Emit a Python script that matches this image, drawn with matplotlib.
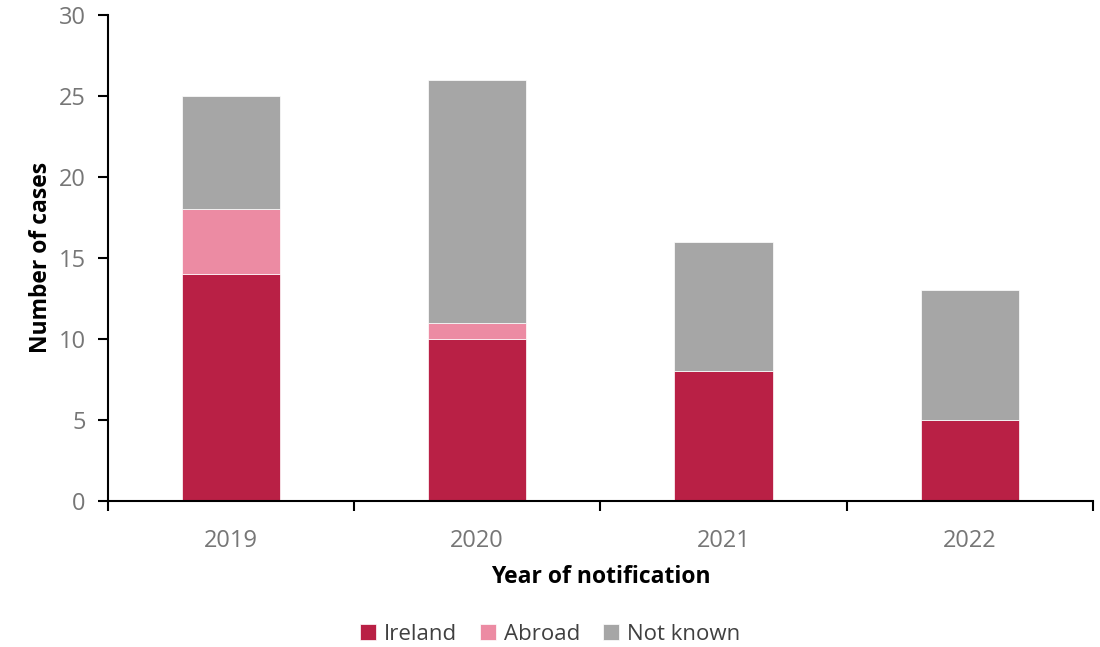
import numpy as np
import matplotlib
matplotlib.use("Agg")
from matplotlib import pyplot as plt
from matplotlib.ticker import FixedLocator

years = ["2019", "2020", "2021", "2022"]
ireland = [14, 10, 8, 5]
abroad = [4, 1, 0, 0]
not_known = [7, 15, 8, 8]

plt.rcParams['font.family'] = ['Open Sans', 'DejaVu Sans']

fig = plt.figure(figsize=(11, 6.47), dpi=100)
ax = fig.add_axes([0.098, 0.2257, 0.8956, 0.7513])

x = np.arange(len(years))
w = 0.4
bottom2 = np.array(ireland)
bottom3 = bottom2 + np.array(abroad)
ax.bar(x, ireland, w, color='#B92045', edgecolor='white', linewidth=0.5, label='Ireland')
ax.bar(x, abroad, w, bottom=bottom2, color='#EC8BA3', edgecolor='white', linewidth=0.5, label='Abroad')
ax.bar(x, not_known, w, bottom=bottom3, color='#A6A6A6', edgecolor='white', linewidth=0.5, label='Not known')

ax.set_xlim(-0.5, len(years) - 0.5)
ax.set_ylim(0, 30)
ax.set_yticks(range(0, 31, 5))
ax.set_xticks(x)
ax.set_xticklabels(years)
ax.xaxis.set_minor_locator(FixedLocator(np.arange(-0.5, len(years), 1.0)))

for s in ['top', 'right']:
    ax.spines[s].set_visible(False)
for s in ['left', 'bottom']:
    ax.spines[s].set_linewidth(1.5)
    ax.spines[s].set_color('black')

ax.tick_params(axis='x', which='major', length=0, pad=20, labelsize=17, labelcolor='#767676')
ax.tick_params(axis='x', which='minor', length=7, width=1.5, direction='out')
ax.tick_params(axis='y', length=7, width=1.5, direction='out', pad=9, labelsize=17, labelcolor='#767676')

ax.set_xlabel('Year of notification', fontsize=16.5, fontweight='bold', labelpad=9)
ax.set_ylabel('Number of cases', fontsize=16.5, fontweight='bold', labelpad=4)

fig.legend(loc='center', bbox_to_anchor=(0.5, 1 - 634 / 647), ncol=3, frameon=False,
           fontsize=16, handlelength=0.75, handleheight=0.75, handletextpad=0.35,
           columnspacing=1.0, labelcolor='#404040')

fig.savefig('out.png', dpi=100)
